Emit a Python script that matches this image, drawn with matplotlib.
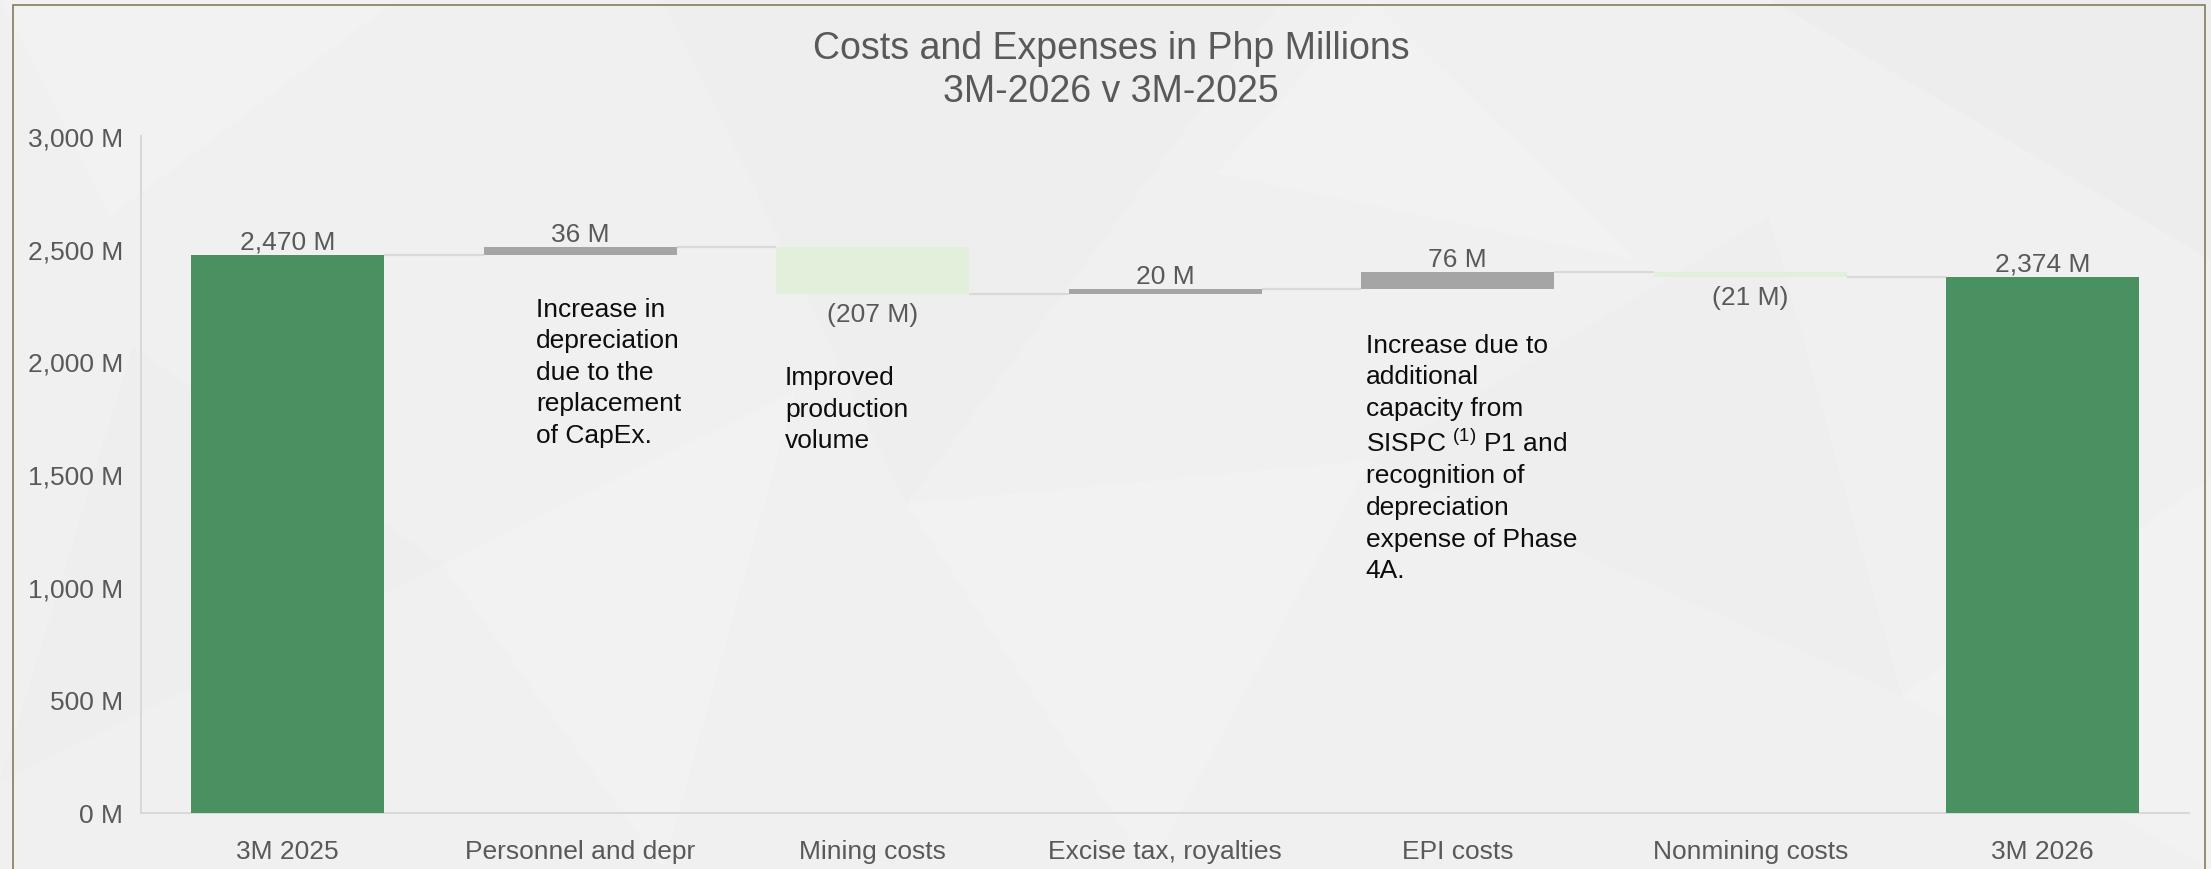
import matplotlib
matplotlib.use("Agg")
import matplotlib.pyplot as plt
from matplotlib.patches import Rectangle, Polygon

plt.rcParams['font.family'] = ['Liberation Sans', 'DejaVu Sans']
plt.rcParams['mathtext.fontset'] = 'custom'
plt.rcParams['mathtext.rm'] = 'Liberation Sans'
plt.rcParams['mathtext.it'] = 'Liberation Sans:italic'
plt.rcParams['mathtext.bf'] = 'Liberation Sans:bold'

# ---- data ----
categories = ["3M 2025", "Personnel and depr", "Mining costs",
              "Excise tax, royalties", "EPI costs", "Nonmining costs", "3M 2026"]
start_total = 2470
changes = [36, -207, 20, 76, -21]
end_total = 2374
y_ticks = [0, 500, 1000, 1500, 2000, 2500, 3000]
title_line1 = "Costs and Expenses in Php Millions"
title_line2 = "3M-2026 v 3M-2025"
notes = {
    1: "Increase in\ndepreciation\ndue to the\nreplacement\nof CapEx.",
    2: "Improved\nproduction\nvolume",
    4: "Increase due to\nadditional\ncapacity from\nSISPC $^{(1)}$ P1 and\nrecognition of\ndepreciation\nexpense of Phase\n4A.",
}

# ---- styles ----
GREEN = "#4A9161"
GRAY_UP = "#A5A5A5"
GREEN_DOWN = "#E2EFDA"
CONNECT = "#D9D9D9"
TXT = "#595959"
BG = "#F0F0F0"

W, H = 2211, 870
fig = plt.figure(figsize=(W / 100, H / 100), dpi=100)
fig.patch.set_facecolor(BG)

# subtle decorative background facets
bg_tris = [
    ([(0.0, 1.0), (0.18, 1.0), (0.05, 0.75)], "#F2F2F2"),
    ([(0.30, 1.0), (0.58, 1.0), (0.41, 0.42)], "#EEEEEE"),
    ([(0.41, 0.42), (0.62, 0.47), (0.52, 0.0)], "#F2F2F2"),
    ([(0.62, 0.47), (0.80, 0.75), (0.86, 0.20)], "#EEEEEE"),
    ([(0.80, 1.0), (1.0, 1.0), (1.0, 0.70)], "#EDEDED"),
    ([(0.06, 0.60), (0.20, 0.35), (0.0, 0.10)], "#EEEEEE"),
    ([(0.20, 0.35), (0.36, 0.55), (0.30, 0.0)], "#F2F2F2"),
    ([(0.86, 0.20), (1.0, 0.45), (1.0, 0.0)], "#F2F2F2"),
    ([(0.62, 1.0), (0.74, 0.70), (0.55, 0.80)], "#F2F2F2"),
]
for pts, c in bg_tris:
    fig.add_artist(Polygon(pts, closed=True, transform=fig.transFigure,
                           facecolor=c, edgecolor="none", zorder=-10))

# border frame
fig.add_artist(Rectangle((13 / W, -0.05), (2205 - 13) / W, 1.05 - 6 / H,
                         transform=fig.transFigure, fill=False,
                         edgecolor="#857B5D", linewidth=1.2, zorder=-5))

left = 141.25 / W
right = 2189 / W
bottom = (H - 813.6) / H
top = (H - 136.8) / H
ax = fig.add_axes([left, bottom, right - left, top - bottom])
ax.set_facecolor("none")

n = len(categories)
xs = list(range(n))
bw = 0.66

# running totals
bottoms, heights, colors, labels, neg = [], [], [], [], []
bottoms.append(0); heights.append(start_total); colors.append(GREEN)
labels.append(f"{start_total:,} M"); neg.append(False)
level = start_total
levels = [level]
for c in changes:
    if c >= 0:
        bottoms.append(level); heights.append(c); colors.append(GRAY_UP)
        labels.append(f"{c:,} M"); neg.append(False)
    else:
        bottoms.append(level + c); heights.append(-c); colors.append(GREEN_DOWN)
        labels.append(f"({-c:,} M)"); neg.append(True)
    level += c
    levels.append(level)
bottoms.append(0); heights.append(end_total); colors.append(GREEN)
labels.append(f"{end_total:,} M"); neg.append(False)
levels.append(end_total)

ax.bar(xs, heights, bottom=bottoms, width=bw, color=colors, edgecolor="none", zorder=3)

# connectors
for i in range(n - 1):
    ax.plot([xs[i] + bw / 2, xs[i + 1] - bw / 2], [levels[i], levels[i]],
            color=CONNECT, lw=1.6, zorder=2, solid_capstyle="butt")

# value labels
for i in range(n):
    if neg[i]:
        ax.annotate(labels[i], (xs[i], bottoms[i]), xytext=(0, -5.5),
                    textcoords="offset points", ha="center", va="top",
                    fontsize=19, color=TXT)
    else:
        ax.annotate(labels[i], (xs[i], bottoms[i] + heights[i]), xytext=(0, 1),
                    textcoords="offset points", ha="center", va="bottom",
                    fontsize=19, color=TXT)

# notes
note_pos = {1: (-0.15, 2287), 2: (-0.30, 1983), 4: (-0.314, 2127)}
for k, txt in notes.items():
    dx, yy = note_pos[k]
    ax.text(xs[k] + dx, yy, txt, ha="left", va="top", fontsize=19,
            color="#0D0D0D", linespacing=1.4)

ax.set_xlim(-0.5, n - 0.5)
ax.set_ylim(0, 3000)
ax.set_xticks(xs)
ax.set_xticklabels(categories, fontsize=19, color=TXT)
ax.set_yticks(y_ticks)
ax.set_yticklabels([f"{v:,} M" for v in y_ticks], fontsize=19, color=TXT)
ax.tick_params(axis="both", length=0)
ax.tick_params(axis="x", pad=19)
ax.tick_params(axis="y", pad=13)
for s in ["top", "right"]:
    ax.spines[s].set_visible(False)
for s in ["left", "bottom"]:
    ax.spines[s].set_color(CONNECT)
    ax.spines[s].set_linewidth(1.5)

fig.text(1111 / W, 1 - 49 / H, title_line1, ha="center", va="center",
         fontsize=27, color=TXT)
fig.text(1111 / W, 1 - 92 / H, title_line2, ha="center", va="center",
         fontsize=27, color=TXT)

fig.savefig("out.png", dpi=100, facecolor=fig.get_facecolor())
